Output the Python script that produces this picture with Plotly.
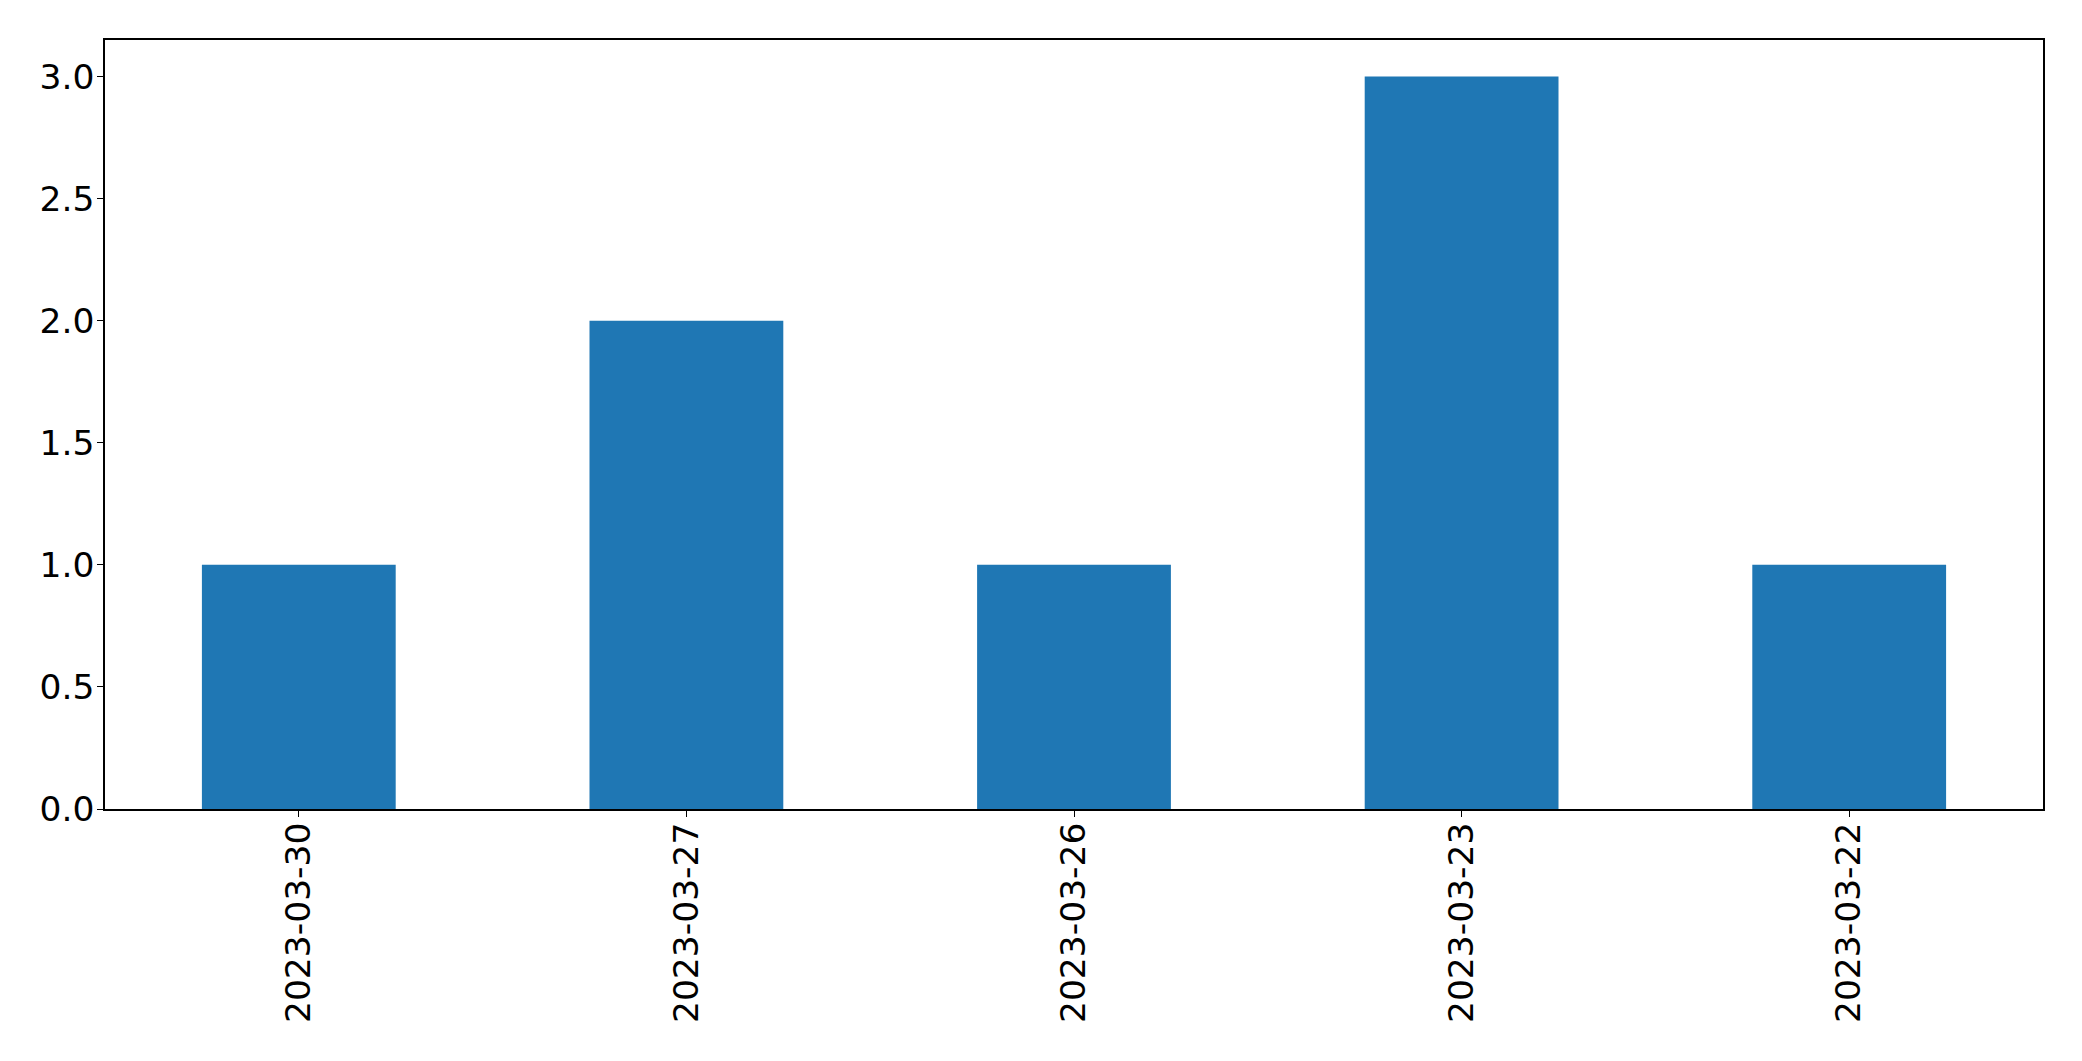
import plotly.graph_objects as go

dates = ["2023-03-30", "2023-03-27", "2023-03-26", "2023-03-23", "2023-03-22"]
counts = [1, 2, 1, 3, 1]

fig = go.Figure(go.Bar(x=dates, y=counts, marker=dict(color="#1f77b4", line=dict(width=0))))

font = dict(family="DejaVu Sans", size=34.5, color="black")
fig.update_layout(
    width=2074, height=1053,
    margin=dict(l=97, r=39, t=32, b=252),
    paper_bgcolor="white", plot_bgcolor="white",
    bargap=0.5, showlegend=False, font=font,
)
fig.update_xaxes(
    type="category", range=[-0.5, 4.5], tickangle=-90,
    showline=True, linecolor="black", linewidth=1.5, mirror=True,
    ticks="outside", ticklen=6, tickwidth=1.3, tickcolor="black",
    showgrid=False, zeroline=False, tickfont=font, ticklabelstandoff=-8,
)
fig.update_yaxes(
    range=[0, 3.15], dtick=0.5, tick0=0, tickformat=".1f",
    showline=True, linecolor="black", linewidth=1.5, mirror=True,
    ticks="outside", ticklen=6, tickwidth=1.3, tickcolor="black",
    showgrid=False, zeroline=False, tickfont=font, ticklabelstandoff=-4,
)
fig.write_html("out.html")
